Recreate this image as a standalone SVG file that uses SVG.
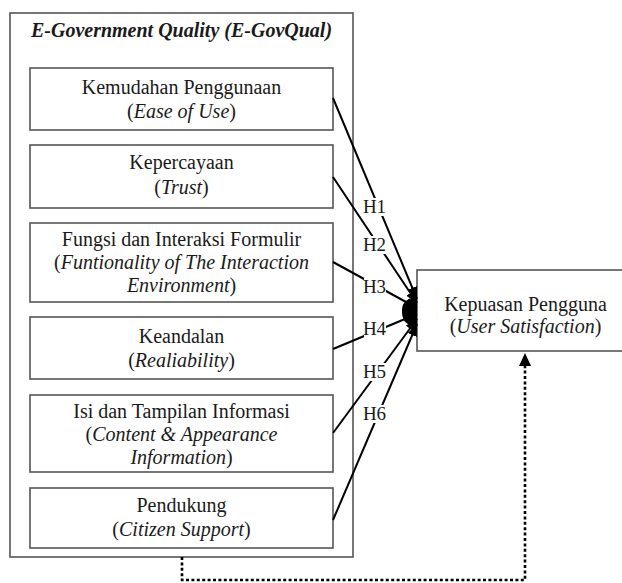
<svg xmlns="http://www.w3.org/2000/svg" width="622" height="583" viewBox="0 0 622 583" font-family="Liberation Serif, Times New Roman, serif">
<defs>
<style>
.box{fill:#fff;stroke:#555;stroke-width:1.6}
.t{font-size:20px;fill:#1a1a1a;text-anchor:middle}
.i{font-style:italic}
.title{font-weight:bold;font-style:italic}
.lbl{font-size:19px;fill:#1a1a1a;text-anchor:middle}
.conn{stroke:#000;stroke-width:2;fill:none;marker-end:url(#ah)}
.dot{stroke:#000;stroke-width:2.6;fill:none;stroke-dasharray:3 2.4}
</style>
<marker id="ah" markerUnits="userSpaceOnUse" markerWidth="12" markerHeight="10" refX="12" refY="5" orient="auto">
<path d="M0,0 L12,5 L0,10 z" fill="#000"/>
</marker>
</defs>
<rect width="622" height="583" fill="#fff"/>

<g id="outer">
<rect class="box" x="10" y="13" width="343" height="544"/>
<text class="t title" font-family="Liberation Serif" x="181.5" y="37">E-Government Quality (E-GovQual)</text>
</g>

<g id="n1" font-family="Liberation Serif">
<rect class="box" x="30" y="68" width="303" height="62"/>
<text class="t" x="181.5" y="94">Kemudahan Penggunaan</text>
<text class="t" x="181.5" y="118">(<tspan class="i">Ease of Use</tspan>)</text>
</g>
<g id="n2" font-family="Liberation Serif">
<rect class="box" x="30" y="145" width="303" height="63"/>
<text class="t" x="181.5" y="169">Kepercayaan</text>
<text class="t" x="181.5" y="194">(<tspan class="i">Trust</tspan>)</text>
</g>
<g id="n3" font-family="Liberation Serif">
<rect class="box" x="30" y="223" width="303" height="79"/>
<text class="t" x="181.5" y="246">Fungsi dan Interaksi Formulir</text>
<text class="t" x="181.5" y="269">(<tspan class="i">Funtionality of The Interaction</tspan></text>
<text class="t" x="181.5" y="292"><tspan class="i">Environment</tspan>)</text>
</g>
<g id="n4" font-family="Liberation Serif">
<rect class="box" x="30" y="317" width="303" height="62"/>
<text class="t" x="181.5" y="343">Keandalan</text>
<text class="t" x="181.5" y="367">(<tspan class="i">Realiability</tspan>)</text>
</g>
<g id="n5" font-family="Liberation Serif">
<rect class="box" x="30" y="395" width="303" height="77"/>
<text class="t" x="181.5" y="418">Isi dan Tampilan Informasi</text>
<text class="t" x="181.5" y="441">(<tspan class="i">Content &amp; Appearance</tspan></text>
<text class="t" x="181.5" y="464"><tspan class="i">Information</tspan>)</text>
</g>
<g id="n6" font-family="Liberation Serif">
<rect class="box" x="30" y="488" width="303" height="60"/>
<text class="t" x="181.5" y="512">Pendukung</text>
<text class="t" x="181.5" y="536">(<tspan class="i">Citizen Support</tspan>)</text>
</g>

<g id="target" font-family="Liberation Serif">
<rect class="box" x="417" y="270" width="220" height="81"/>
<text class="t" x="525.5" y="311">Kepuasan Pengguna</text>
<text class="t" x="525.5" y="333">(<tspan class="i">User Satisfaction</tspan>)</text>
</g>

<g id="connectors">
<path class="conn" d="M333,98 L417,299"/>
<path class="conn" d="M333,177 L417,303"/>
<path class="conn" d="M333,262 L417,308"/>
<path class="conn" d="M333,349 L417,314"/>
<path class="conn" d="M333,433 L417,319"/>
<path class="conn" d="M333,520 L417,324"/>
<path d="M417,298 C404,298 402,305 402,311 C402,318 404,326 417,326 z" fill="#000"/>
<path class="dot" d="M182,557 L182,580 L525,580 L525,364"/>
<path d="M525,353 L519,366 L531,366 z" fill="#000"/>
</g>

<g id="labels" font-family="Liberation Serif">
<g id="H1"><rect x="364" y="198" width="22" height="18" fill="#fff"/><text class="lbl" x="374.5" y="213">H1</text></g>
<g id="H2"><rect x="364" y="236" width="22" height="18" fill="#fff"/><text class="lbl" x="374.5" y="251">H2</text></g>
<g id="H3"><rect x="364" y="278" width="22" height="18" fill="#fff"/><text class="lbl" x="374.5" y="293">H3</text></g>
<g id="H4"><rect x="364" y="320" width="22" height="18" fill="#fff"/><text class="lbl" x="374.5" y="335">H4</text></g>
<g id="H5"><rect x="364" y="363" width="22" height="18" fill="#fff"/><text class="lbl" x="374.5" y="378">H5</text></g>
<g id="H6"><rect x="364" y="405" width="22" height="18" fill="#fff"/><text class="lbl" x="374.5" y="420">H6</text></g>
</g>
</svg>
